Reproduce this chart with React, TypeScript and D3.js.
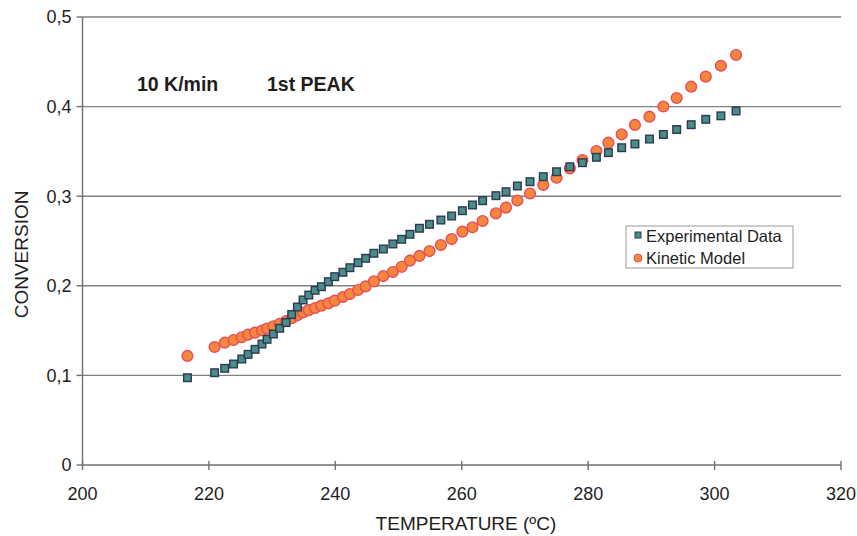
import * as React from "react";
import * as d3 from "d3";

// temperatures (ºC) shared by both series
const temperature = [
    216.6, 220.9, 222.5, 223.9, 225.2, 226.2, 227.3, 228.4, 229.2, 230.2,
    231.2, 232.2, 233.1, 234.0, 234.9, 235.8, 236.8, 237.8, 238.9, 239.9,
    241.2, 242.3, 243.6, 244.8, 246.1, 247.6, 249.1, 250.5, 251.8, 253.3,
    254.9, 256.7, 258.4, 260.1, 261.7, 263.3, 265.4, 267.0, 268.8, 270.8,
    272.9, 275.0, 277.1, 279.1, 281.3, 283.2, 285.3, 287.4, 289.7, 291.9,
    294.0, 296.3, 298.6, 301.0, 303.4,
];

const experimental = [
    0.0974, 0.1030, 0.1079, 0.1127, 0.1183, 0.1235, 0.1291, 0.1350, 0.1403, 0.1462,
    0.1526, 0.1590, 0.1680, 0.1763, 0.1842, 0.1897, 0.1950, 0.1990, 0.2046, 0.2102,
    0.2151, 0.2202, 0.2258, 0.2307, 0.2363, 0.2411, 0.2467, 0.2519, 0.2575, 0.2642,
    0.2686, 0.2734, 0.2779, 0.2838, 0.2902, 0.2950, 0.3006, 0.3050, 0.3114, 0.3162,
    0.3218, 0.3273, 0.3328, 0.3374, 0.3434, 0.3486, 0.3541, 0.3583, 0.3638, 0.3689,
    0.3744, 0.3798, 0.3858, 0.3897, 0.3951,
];

const kinetic = [
    0.1217, 0.1317, 0.1365, 0.1395, 0.1426, 0.1455, 0.1477, 0.1501, 0.1523, 0.1548,
    0.1576, 0.1607, 0.1638, 0.1671, 0.1702, 0.1728, 0.1752, 0.1779, 0.1804, 0.1834,
    0.1875, 0.1908, 0.1953, 0.1994, 0.2050, 0.2109, 0.2154, 0.2212, 0.2280, 0.2333,
    0.2388, 0.2455, 0.2522, 0.2604, 0.2653, 0.2723, 0.2809, 0.2873, 0.2952, 0.3030,
    0.3125, 0.3206, 0.3311, 0.3404, 0.3504, 0.3597, 0.3691, 0.3795, 0.3887, 0.4001,
    0.4096, 0.4222, 0.4334, 0.4456, 0.4576,
];

const xTicks = [200, 220, 240, 260, 280, 300, 320];
const yTicks = [0, 0.1, 0.2, 0.3, 0.4, 0.5];
const legendLabels = ["Experimental Data", "Kinetic Model"];

const font = "'Liberation Sans', Arial, sans-serif";
const textColor = "#1e1e1e";
const squareFill = "#4a8c86";
const squareStroke = "#2b3a55";
const circleFill = "#f5873c";
const circleStroke = "#e84c5a";

const fmtY = (v: number) => (v === 0 ? "0" : d3.format(".1f")(v).replace(".", ","));

export default function App() {
    const x = d3.scaleLinear().domain([200, 320]).range([82.5, 841]);
    const y = d3.scaleLinear().domain([0, 0.5]).range([465, 17]);

    const expPoints = temperature.map((t, i) => [t, experimental[i]]);
    const kinPoints = temperature.map((t, i) => [t, kinetic[i]]);

    return <svg width="857" height="536" style={{ position: "absolute", left: 0, top: 0, background: "#fff" }} fontFamily={font}>
        {/* grid */}
        {yTicks.filter(v => v > 0).map(v =>
            <line key={"g" + v} x1={x(200)} x2={x(320)} y1={y(v)} y2={y(v)} stroke="#808080" strokeWidth={1.4} />)}

        {/* axes */}
        <line x1={x(200)} x2={x(200)} y1={y(0)} y2={y(0.5)} stroke="#707070" strokeWidth={1.4} />
        <line x1={x(200)} x2={x(320)} y1={y(0)} y2={y(0)} stroke="#707070" strokeWidth={1.4} />
        {yTicks.map(v =>
            <g key={"y" + v}>
                <line x1={x(200) - 6} x2={x(200)} y1={y(v)} y2={y(v)} stroke="#707070" strokeWidth={1.4} />
                <text x={x(200) - 11} y={y(v)} dy="0.36em" textAnchor="end" fontSize={18} fill={textColor}>{fmtY(v)}</text>
            </g>)}
        {xTicks.map(v =>
            <g key={"x" + v}>
                <line x1={x(v)} x2={x(v)} y1={y(0) - 4} y2={y(0) + 5} stroke="#707070" strokeWidth={1.4} />
                <text x={x(v)} y={y(0) + 35} textAnchor="middle" fontSize={18} fill={textColor}>{v}</text>
            </g>)}

        <text x={466} y={530} textAnchor="middle" fontSize={19} fill={textColor}>TEMPERATURE (ºC)</text>
        <text transform={`translate(28,${y(0.235)}) rotate(-90)`} textAnchor="middle" fontSize={19} fill={textColor}>CONVERSION</text>

        <text x={137} y={91} fontSize={19.5} fontWeight="bold" fill={textColor}>10 K/min</text>
        <text x={267} y={91} fontSize={19.5} fontWeight="bold" fill={textColor}>1st PEAK</text>

        {/* kinetic model */}
        {kinPoints.map((d, i) =>
            <circle key={"k" + i} cx={x(d[0])} cy={y(d[1])} r={5.4} fill={circleFill} stroke={circleStroke} strokeWidth={1.4} />)}
        {/* experimental */}
        {expPoints.map((d, i) =>
            <rect key={"e" + i} x={x(d[0]) - 3.8} y={y(d[1]) - 3.8} width={7.6} height={7.6} fill={squareFill} stroke={squareStroke} strokeWidth={1.4} />)}

        {/* legend */}
        <g transform="translate(626,226)">
            <rect x={0} y={0} width={167} height={42} fill="#fff" stroke="#999" strokeWidth={1} />
            <rect x={9} y={6} width={6} height={6} fill={squareFill} stroke={squareStroke} strokeWidth={1} />
            <text x={20} y={15.5} fontSize={16.5} fill={textColor}>{legendLabels[0]}</text>
            <circle cx={12} cy={32} r={4} fill={circleFill} stroke={circleStroke} strokeWidth={1} />
            <text x={20} y={37.5} fontSize={16.5} fill={textColor}>{legendLabels[1]}</text>
        </g>
    </svg>;
}
